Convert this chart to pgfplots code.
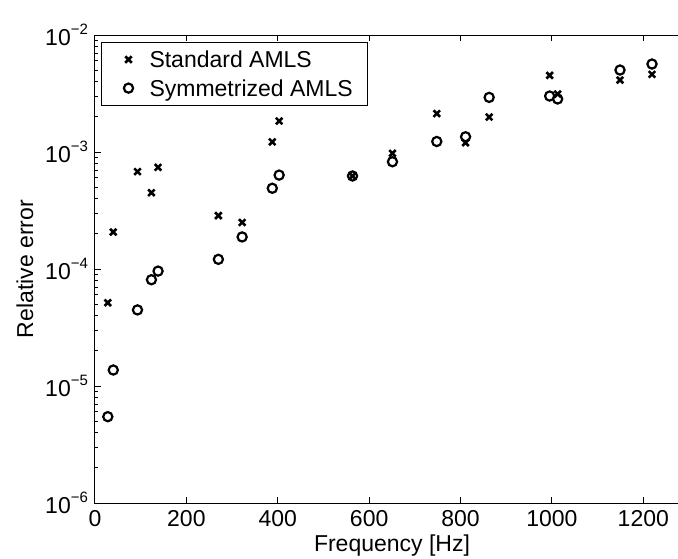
\documentclass[border=0pt]{standalone}
\usepackage{fontspec}
\setmainfont{Liberation Sans}
\usepackage{pgfplots}
\pgfplotsset{compat=1.18}
\newcommand{\ex}[1]{10\raisebox{5.5pt}{\fontsize{7.5}{8}\selectfont −#1}}
\begin{document}
\begin{tikzpicture}
\begin{axis}[
  width=297pt, height=234pt, scale only axis,
  xmin=0, xmax=1300, ymode=log, ymin=1e-6, ymax=1e-2,
  xtick={0,200,...,1200},
  ytick={1e-6,1e-5,1e-4,1e-3,1e-2},
  yticklabels={\ex{6},\ex{5},\ex{4},\ex{3},\ex{2}},
  tick align=inside, major tick length=3pt, minor tick length=1.6pt,
  axis line style={line width=0.5pt},
  every tick/.style={black, line width=0.5pt},
  tick label style={font=\fontsize{11.5}{13}\selectfont},
  /pgf/number format/assume math mode=true,
  /pgf/number format/1000 sep={},
  xlabel={Frequency [Hz]}, ylabel={Relative error},
  label style={font=\fontsize{11.5}{13}\selectfont},
  xlabel style={at={(axis description cs:0.5,-0.0919)}, anchor=center},
  ylabel style={at={(axis description cs:-0.1178,0.5)}, anchor=center},
  legend image code/.code={%
    \path[draw=none,fill=none] (-6pt,-5pt) rectangle (6pt,5pt);
    \draw[mark repeat=1,#1] plot coordinates {(0pt,0pt)};},
  legend style={at={(0,1)}, anchor=north west, xshift=3pt, yshift=-3.5pt,
    draw=black, line width=0.5pt, font=\fontsize{11.5}{13}\selectfont,
    inner xsep=7.5pt, inner ysep=3pt, row sep=3.3pt, column sep=4.5pt,
    nodes={inner sep=0pt, text height=9.5pt, text depth=1.5pt}},
  legend cell align=left,
]
\addplot[only marks, mark=x, mark size=2.3pt, line width=1.3pt, black] table {
x y
28 5.15e-5
40 2.07e-4
93 6.8e-4
123.5 4.49e-4
138 7.4e-4
270 2.86e-4
322 2.5e-4
388 1.22e-3
403 1.84e-3
563.6 6.24e-4
651 9.75e-4
748 2.13e-3
811 1.2e-3
862.6 1.99e-3
995 4.52e-3
1012.5 3.13e-3
1149 4.12e-3
1219 4.61e-3
};
\addlegendentry{Standard AMLS}
\addplot[only marks, mark=o, mark size=2.3pt, line width=1.1pt, black] table {
x y
28 5.47e-6
40 1.37e-5
93 4.47e-5
123.5 8.1e-5
138 9.6e-5
270 1.21e-4
322 1.88e-4
388 4.9e-4
403 6.35e-4
563.6 6.24e-4
651 8.26e-4
748 1.23e-3
811 1.35e-3
862.6 2.93e-3
995 3.01e-3
1012.5 2.84e-3
1149 5.02e-3
1219 5.65e-3
};
\addlegendentry{Symmetrized AMLS}
\coordinate (bl) at (rel axis cs:0,0);
\coordinate (tl) at (rel axis cs:0,1);
\end{axis}
\pgfresetboundingbox
\path[use as bounding box] ([xshift=-47.5pt,yshift=-27.5pt]bl) rectangle ([xshift=291.5pt,yshift=17.5pt]tl);
\end{tikzpicture}
\end{document}
